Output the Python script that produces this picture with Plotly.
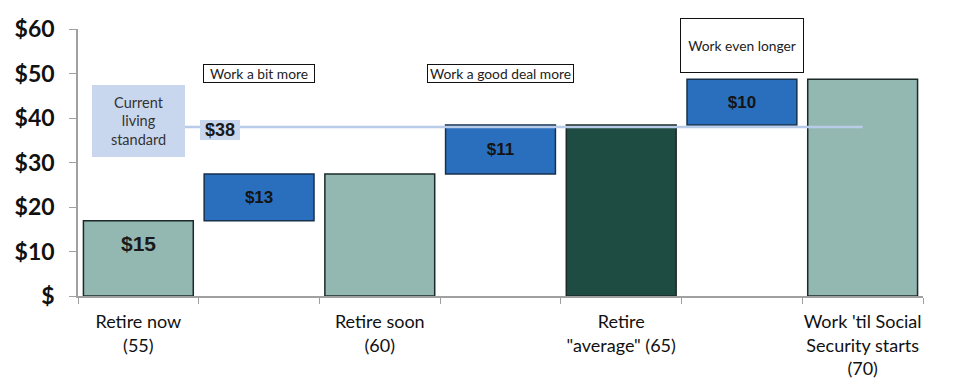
import plotly.graph_objects as go

# ---- data ----
cat_ids = ["now", "gap1", "soon", "gap2", "avg", "gap3", "ss"]
tick_labels = ["Retire now<br>(55)", "", "Retire soon<br>(60)", "",
               "Retire<br>\"average\" (65)", "", "Work 'til Social<br>Security starts<br>(70)"]

level_ids = ["now", "soon", "avg", "ss"]
level_values = [16.9, 27.4, 38.4, 48.7]
level_colors = ["#93b7b1", "#93b7b1", "#1f4c42", "#93b7b1"]
first_label = "$15"

step_ids = ["gap1", "gap2", "gap3"]
step_base = [16.9, 27.4, 38.4]
step_height = [10.5, 11.0, 10.3]
step_text = ["$13", "$11", "$10"]
step_notes = ["Work a bit more", "Work a good deal more", "Work even longer"]

living_standard = 38
y_ticks = [0, 10, 20, 30, 40, 50, 60]
y_tick_text = ["$", "$10", "$20", "$30", "$40", "$50", "$60"]

fig = go.Figure()
fig.add_trace(go.Bar(
    x=level_ids, y=level_values, marker=dict(color=level_colors, line=dict(color="#1b2a28", width=1.5)),
    hoverinfo="skip", showlegend=False))
fig.add_trace(go.Bar(
    x=step_ids, y=step_height, base=step_base,
    marker=dict(color="#2a6fbd", line=dict(color="#17304d", width=1.5)),
    text=step_text, textposition="inside", insidetextanchor="middle",
    textfont=dict(family="Liberation Sans, Arial", size=17, color="#141414", weight="bold"),
    hoverinfo="skip", showlegend=False))

fig.add_annotation(x=level_ids[0], y=level_values[0], xref="x", yref="y", text=first_label,
                   showarrow=False, yanchor="top", yshift=-9,
                   font=dict(family="Liberation Sans, Arial", size=21, color="#1a1a1a", weight="bold"))

fig.add_shape(type="line", xref="x", yref="y", x0=0.37, x1=6, y0=living_standard, y1=living_standard,
              line=dict(color="#b8cbe8", width=2.5), layer="above")

note_font = dict(family="Lato, Noto Sans", size=13.8, color="#222")
fig.add_annotation(x="gap1", y=50, xref="x", yref="y", text=step_notes[0], showarrow=False,
                   font=note_font, bgcolor="white", bordercolor="#111", borderwidth=1, borderpad=1,
                   width=108, height=15)
fig.add_annotation(x="gap2", y=50, xref="x", yref="y", text=step_notes[1], showarrow=False,
                   font=note_font, bgcolor="white", bordercolor="#111", borderwidth=1, borderpad=1,
                   width=143, height=15)
fig.add_annotation(x="gap3", y=56.3, xref="x", yref="y", text=step_notes[2], showarrow=False,
                   font=note_font, bgcolor="white", bordercolor="#111", borderwidth=1, borderpad=1,
                   width=120, height=51)
fig.add_annotation(x="now", y=39.3, xref="x", yref="y", text="Current<br>living<br>standard",
                   showarrow=False, font=dict(family="Lato, Noto Sans", size=14.5, color="#333"),
                   bgcolor="#c9d7ee", borderwidth=0, width=91, height=70)
fig.add_annotation(x=0.68, y=37.2, xref="x", yref="y", text="$" + str(living_standard),
                   showarrow=False, font=dict(family="Liberation Sans, Arial", size=18, color="#1a1a1a", weight="bold"),
                   bgcolor="#c9d7ee", borderwidth=0, width=38, height=18)

# page body has an 8px margin, so the figure is sized/placed to compensate
fig.update_layout(
    width=943, height=377, margin=dict(l=70, r=28, t=21, b=89, autoexpand=False),
    paper_bgcolor="white", plot_bgcolor="white", bargap=0.09, barmode="overlay",
    xaxis=dict(type="category", categoryorder="array", categoryarray=cat_ids,
               tickmode="array", tickvals=cat_ids, ticktext=tick_labels, tickson="boundaries",
               ticks="outside", ticklen=6, tickcolor="#a0a0a0", showline=True, linecolor="#a0a0a0",
               linewidth=1.5, showgrid=False, ticklabelstandoff=9, tickangle=0, automargin=False,
               tickfont=dict(family="Lato, Noto Sans", size=18, color="#111"), range=[-0.5, 6.5]),
    yaxis=dict(range=[0, 60], tickvals=y_ticks, ticktext=y_tick_text, ticks="outside", ticklen=7,
               tickcolor="#a0a0a0", showline=True, linecolor="#a0a0a0", linewidth=1.5, showgrid=False,
               zeroline=False, ticklabelstandoff=10, automargin=False,
               tickfont=dict(family="Lato, Noto Sans", size=23, color="#111", weight="bold")),
)
fig.write_html("out.html")
